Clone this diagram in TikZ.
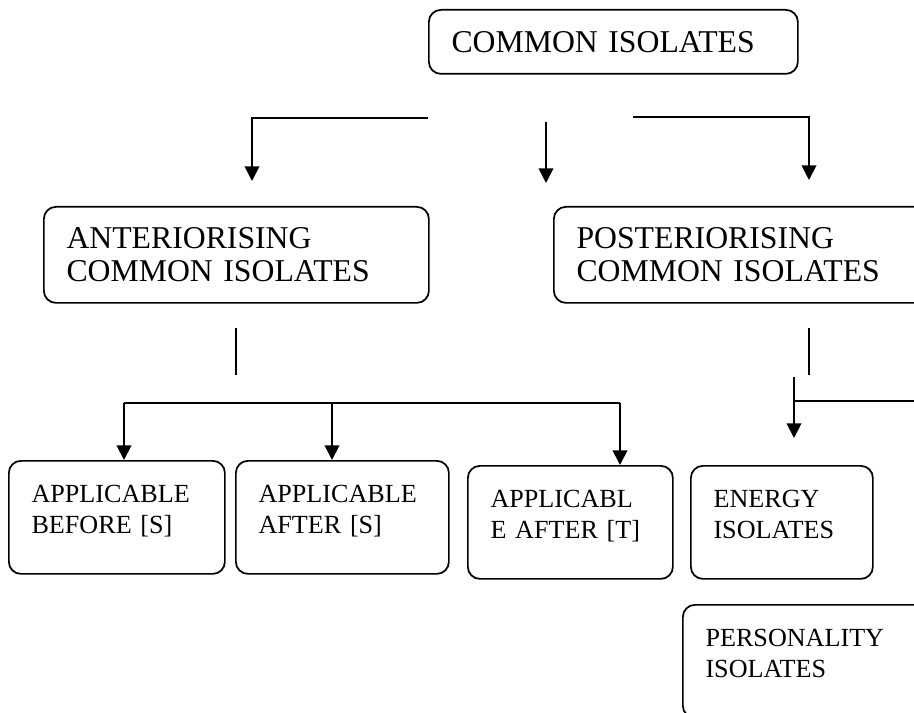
\documentclass[tikz,border=0pt]{standalone}
\usepackage{fontspec}
\setmainfont{Liberation Serif}
\usepackage{tikz}
\usetikzlibrary{arrows.meta}
\newcommand{\isobig}{\fontsize{23.8pt}{24.8pt}\selectfont}
\newcommand{\isosmall}{\fontsize{19.6pt}{23.3pt}\selectfont}

\begin{document}
\begin{tikzpicture}[>={Triangle[length=11pt,width=11pt]},x=0.75pt,y=-0.75pt,line width=1.3pt]
\tikzstyle{box}=[draw=black,rounded corners=9pt,anchor=north west,align=left,inner xsep=17pt,inner ysep=0pt]
\tikzstyle{bigbox}=[box,font=\isobig]
\tikzstyle{smallbox}=[box,font=\isosmall,minimum height=84.75pt,text depth=35.8pt]
\useasboundingbox (0,0) rectangle (914,713);
\node[bigbox,text width=242.75pt,minimum height=48pt] (CI) at (428,9) {COMMON ISOLATES};
\node[bigbox,text width=254.75pt,minimum height=72pt] (ACI) at (43,206) {ANTERIORISING\\COMMON ISOLATES};
\node[bigbox,text width=258.5pt,minimum height=72pt] (PCI) at (553,206) {POSTERIORISING\\COMMON ISOLATES};
\node[smallbox,text width=128pt] (ABS) at (8,460) {APPLICABLE\\BEFORE [S]};
\node[smallbox,text width=125.75pt] (AAS) at (235,460) {APPLICABLE\\AFTER [S]};
\node[smallbox,text width=119.75pt] (AAT) at (467,465) {APPLICABL\\E AFTER [T]};
\node[smallbox,text width=102.5pt] (EI) at (690,465) {ENERGY\\ISOLATES};
\node[smallbox,text width=153.5pt] (PI) at (682,604) {PERSONALITY\\ISOLATES};
\coordinate (CIl) at (428,118);
\coordinate (CIm) at (546,122);
\coordinate (CIr) at (633,117);
\coordinate (ACIa) at (252,181);
\coordinate (MIDa) at (546,183);
\coordinate (PCIa) at (809,180);
\draw[->] (CIl) -| (ACIa);
\draw[->] (CIm) to (MIDa);
\draw[->] (CIr) -| (PCIa);
\coordinate (ACIs) at (236,328);
\coordinate (ACIe) at (236,375);
\coordinate (J1) at (124,403);
\coordinate (J2) at (332,403);
\coordinate (J3) at (620,403);
\draw (ACIs) to (ACIe);
\draw (J1) to (J3);
\draw[->] (J1) to (J1 |- ABS.north);
\draw[->] (J2) to (J2 |- AAS.north);
\draw[->] (J3) to (J3 |- AAT.north);
\coordinate (PCIs) at (809,328);
\coordinate (PCIe) at (809,375);
\coordinate (EIs) at (794,377);
\coordinate (EIa) at (794,438);
\coordinate (K1) at (794,401);
\coordinate (K2) at (930,401);
\draw (PCIs) to (PCIe);
\draw[->] (EIs) to (EIa);
\draw (K1) to (K2);
\end{tikzpicture}
\end{document}
